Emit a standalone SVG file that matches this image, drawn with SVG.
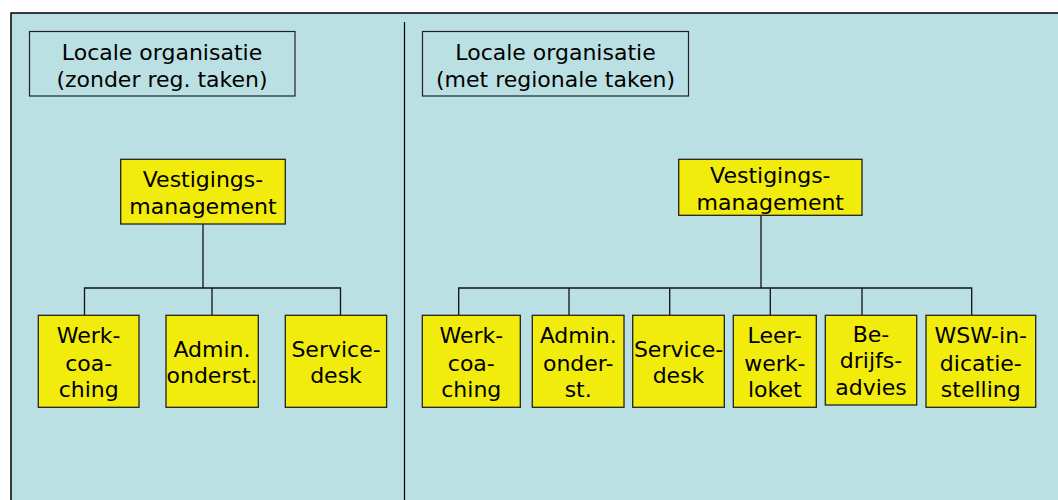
<svg xmlns="http://www.w3.org/2000/svg" width="1058" height="500" viewBox="0 0 1058 500">
<style>
.t{font-family:"DejaVu Sans",Verdana,sans-serif;font-size:22px;fill:#000;text-anchor:middle}
.box{fill:#F2EC0C;stroke:#222;stroke-width:1.3}
.title{fill:none;stroke:#222;stroke-width:1.2}
.c{fill:none;stroke:#111;stroke-width:1.3}
</style>
<rect x="0" y="0" width="1058" height="500" fill="#fff"/>
<rect x="11" y="13" width="1100" height="520" fill="#BBE0E3" stroke="#000" stroke-width="1.5"/>
<line x1="404.5" y1="22" x2="404.5" y2="500" stroke="#000" stroke-width="1.2"/>
<g id="connectors">
<polyline class="c" points="203,224 203,288"/>
<polyline class="c" points="84.5,315 84.5,288 340.5,288 340.5,315"/>
<line class="c" x1="212" y1="288" x2="212" y2="315"/>
<polyline class="c" points="761,215 761,288"/>
<polyline class="c" points="458.7,315 458.7,288 971.7,288 971.7,315"/>
<line class="c" x1="569" y1="288" x2="569" y2="315"/>
<line class="c" x1="669.7" y1="288" x2="669.7" y2="315"/>
<line class="c" x1="770.3" y1="288" x2="770.3" y2="315"/>
<line class="c" x1="862" y1="288" x2="862" y2="315"/>
</g>
<g id="title-left">
<rect class="title" x="29.5" y="31.5" width="265.5" height="64.5"/>
<text class="t" x="162" y="60">Locale organisatie</text>
<text class="t" x="162" y="87">(zonder reg. taken)</text>
</g>
<g id="title-right">
<rect class="title" x="422.5" y="31.5" width="266" height="64.5"/>
<text class="t" x="555.5" y="60">Locale organisatie</text>
<text class="t" x="555.5" y="87">(met regionale taken)</text>
</g>
<g id="vest-left">
<rect class="box" x="120.7" y="159.3" width="164.6" height="64.7"/>
<text class="t" x="203" y="187">Vestigings-</text>
<text class="t" x="203" y="214">management</text>
</g>
<g id="werk-left">
<rect class="box" x="38.3" y="315.3" width="100.7" height="92"/>
<text class="t" x="88.7" y="343">Werk-</text>
<text class="t" x="88.7" y="371">coa-</text>
<text class="t" x="88.7" y="397">ching</text>
</g>
<g id="admin-left">
<rect class="box" x="166" y="315.3" width="92.3" height="92"/>
<text class="t" x="212" y="356.5">Admin.</text>
<text class="t" x="212" y="383">onderst.</text>
</g>
<g id="service-left">
<rect class="box" x="285.3" y="315.3" width="101.3" height="92"/>
<text class="t" x="336" y="356.5">Service-</text>
<text class="t" x="336" y="383">desk</text>
</g>
<g id="vest-right">
<rect class="box" x="678.7" y="159.3" width="183.3" height="56"/>
<text class="t" x="770.3" y="183.3">Vestigings-</text>
<text class="t" x="770.3" y="210">management</text>
</g>
<g id="werk-right">
<rect class="box" x="422.3" y="315.3" width="98" height="92"/>
<text class="t" x="471.3" y="343">Werk-</text>
<text class="t" x="471.3" y="371">coa-</text>
<text class="t" x="471.3" y="397">ching</text>
</g>
<g id="admin-right">
<rect class="box" x="532.3" y="315.3" width="91.7" height="92"/>
<text class="t" x="578.2" y="343">Admin.</text>
<text class="t" x="578.2" y="371">onder-</text>
<text class="t" x="578.2" y="397">st.</text>
</g>
<g id="service-right">
<rect class="box" x="632.7" y="315.3" width="91.6" height="92"/>
<text class="t" x="678.5" y="356.5">Service-</text>
<text class="t" x="678.5" y="383">desk</text>
</g>
<g id="leerwerk-right">
<rect class="box" x="733.3" y="315.3" width="83" height="92"/>
<text class="t" x="774.8" y="343">Leer-</text>
<text class="t" x="774.8" y="371">werk-</text>
<text class="t" x="774.8" y="397">loket</text>
</g>
<g id="bedrijf-right">
<rect class="box" x="825.3" y="315.3" width="91.4" height="89.7"/>
<text class="t" x="871" y="341.5">Be-</text>
<text class="t" x="871" y="368">drijfs-</text>
<text class="t" x="871" y="395">advies</text>
</g>
<g id="wsw-right">
<rect class="box" x="926" y="315.3" width="109.7" height="92"/>
<text class="t" x="980.8" y="343">WSW-in-</text>
<text class="t" x="980.8" y="371">dicatie-</text>
<text class="t" x="980.8" y="397">stelling</text>
</g>
</svg>
